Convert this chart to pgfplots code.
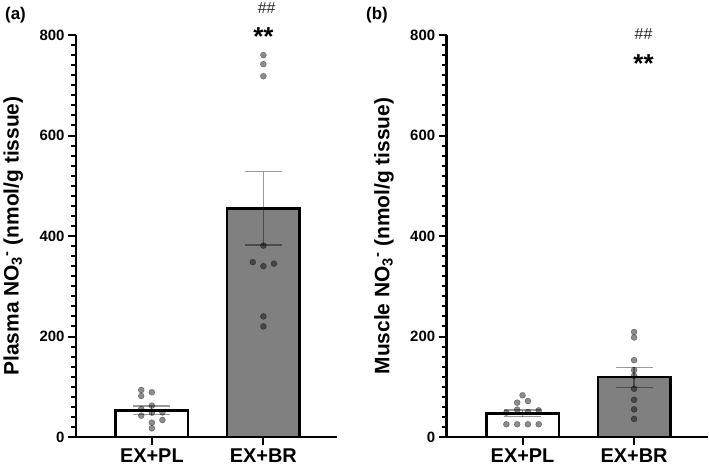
\documentclass[border=0pt]{standalone}
\usepackage{fontspec}
\setmainfont{Liberation Sans}
\usepackage{pgfplots}
\pgfplotsset{compat=1.18}
\definecolor{bargray}{RGB}{128,128,128}

\pgfplotsset{
  nitrate/.style={
    scale only axis, width=261bp, height=402bp,
    xmin=-0.68, xmax=1.66, ymin=0, ymax=800,
    axis lines=left,
    axis line style={line width=2.5bp, -},
    xtick={0,1}, xticklabels={EX+PL,EX+BR},
    ytick={0,200,...,800},
    minor ytick={0,20,...,800},
    tick align=outside,
    major tick length=8bp, minor tick length=5bp,
    every tick/.style={black, line width=2bp},
    x tick label style={font=\bfseries\fontsize{20}{20}\selectfont},
    y tick label style={font=\bfseries\fontsize{15}{15}\selectfont},
    /pgf/number format/assume math mode=true,
    ylabel style={font=\bfseries\fontsize{21}{21}\selectfont,
      at={(axis description cs:-0.24,0.5)}, anchor=center},
    clip=false,
  },
  nodots/.style={only marks, draw=none, mark=*, mark size=3bp,
    mark options={solid, draw=none, fill=black, opacity=0.45}},
  sembar/.style={forget plot, mark=none, draw=none,
    error bars/.cd, y dir=both, y explicit,
    error bar style={draw=black, line width=1.3bp, opacity=0.4},
    error mark options={rotate=90, draw=black, line width=1.3bp, mark size=18.5bp, opacity=0.4}},
  meanbar/.style={ybar, bar width=0.65, bar shift=0pt, draw=black, line width=2.5bp},
}
% tick marks, drawn in axis coordinates with canvas offsets
\newcommand{\ticksmarks}{%
  \pgfplotsinvokeforeach{0,20,...,800}{\draw[line width=1.5bp] (axis cs:-0.68,##1) -- ([xshift=-5bp]axis cs:-0.68,##1);}%
  \pgfplotsinvokeforeach{0,200,...,800}{\draw[line width=2bp] (axis cs:-0.68,##1) -- ([xshift=-8bp]axis cs:-0.68,##1);}%
  \pgfplotsinvokeforeach{0,1}{\draw[line width=2bp] (axis cs:##1,0) -- ([yshift=-8bp]axis cs:##1,0);}%
}

\begin{document}
\begin{tikzpicture}
% (a) plasma
\begin{axis}[nitrate, ylabel={Plasma NO\textsubscript{3}\textsuperscript{-} (nmol/g tissue)}]
\addplot[meanbar, fill=white] coordinates {(0,53)};
\addplot[meanbar, fill=bargray] coordinates {(1,455)};
\addplot[sembar] coordinates {(0,53) +- (0,8.5) (1,455) +- (0,73)};
\addplot[nodots] coordinates {
  (-0.095,93.5)(0,89)(-0.095,81.6)(0,62.4)(-0.095,55.7)(0.095,49)
  (0,48.5)(-0.095,42.4)(0.095,33.8)(0,28.5)(0,17.2)};
\addplot[nodots] coordinates {
  (1,760)(1,742)(1,718)(1,381)(0.905,348)(1,340)(1.095,345)(1,240)(1,220)};
\ticksmarks
\node[anchor=base, font=\bfseries\fontsize{26}{26}\selectfont] at (axis cs:1,780) {**};
\node[anchor=base, text=black!85, font=\fontsize{16}{16}\selectfont] at (axis cs:1.03,843) {\#\#};
\end{axis}
% (b) muscle
\begin{axis}[nitrate, at={(370.7bp,0)}, ylabel={Muscle NO\textsubscript{3}\textsuperscript{-} (nmol/g tissue)}]
\addplot[meanbar, fill=white] coordinates {(0,47)};
\addplot[meanbar, fill=bargray] coordinates {(1,119)};
\addplot[sembar] coordinates {(0,47) +- (0,6.7) (1,119) +- (0,20)};
\addplot[nodots] coordinates {
  (0,83)(-0.048,68.4)(0.048,71.6)
  (-0.145,48.5)(-0.048,54.5)(0.048,49.8)(0.145,53)
  (-0.145,25.3)(-0.048,25.3)(0.048,25.3)(0.145,25.3)};
\addplot[nodots] coordinates {
  (1,209)(1,198)(1,153)(1,133)(1,122)(1,96)(1,74)(1,55)(1,36)};
\ticksmarks
\node[anchor=base, font=\bfseries\fontsize{26}{26}\selectfont] at (axis cs:1.085,725) {**};
\node[anchor=base, text=black!85, font=\fontsize{16}{16}\selectfont] at (axis cs:1.085,792) {\#\#};
\end{axis}
\node[font=\bfseries\fontsize{17}{17}\selectfont] at (-60.5bp,421.5bp) {(a)};
\node[font=\bfseries\fontsize{17}{17}\selectfont] at (301bp,421.5bp) {(b)};
\pgfresetboundingbox
\path[use as bounding box] (-76bp,-32bp) rectangle (633bp,437bp);
\end{tikzpicture}
\end{document}
